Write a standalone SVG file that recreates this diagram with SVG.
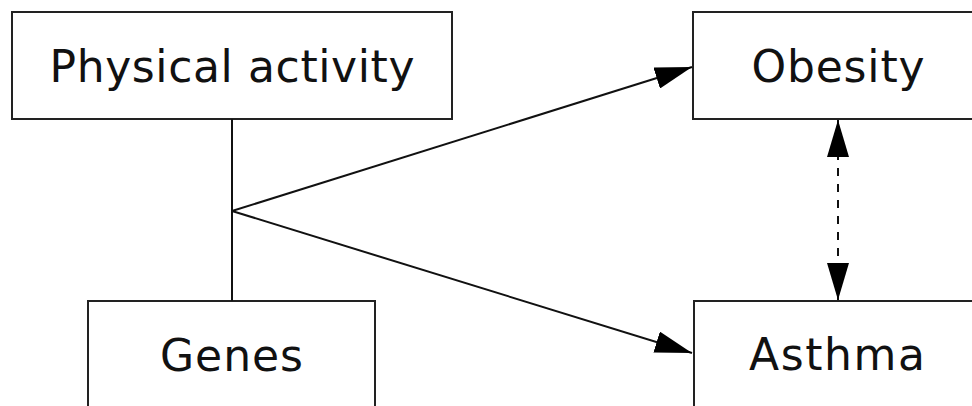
<svg xmlns="http://www.w3.org/2000/svg" width="972" height="406" viewBox="0 0 972 406">
<style>
.box{fill:#fff;stroke:#222;stroke-width:2}
.lbl{font-family:"DejaVu Sans","Liberation Sans",Arial,sans-serif;font-size:44px;fill:#111;text-anchor:middle}
.ln{stroke:#111;stroke-width:2;fill:none}
</style>
<defs>
<marker id="ah" markerUnits="userSpaceOnUse" viewBox="0 0 37 22" refX="37" refY="11" markerWidth="37" markerHeight="22" orient="auto-start-reverse">
<path d="M0,0 L37,11 L0,22 Z" fill="#000"/>
</marker>
</defs>
<rect width="972" height="406" fill="#fff"/>
<g id="physical-activity">
<rect class="box" x="12" y="12" width="440" height="107"/>
<text class="lbl" x="232" y="82" textLength="365" lengthAdjust="spacing">Physical activity</text>
</g>
<g id="obesity">
<rect class="box" x="693" y="12" width="290" height="107"/>
<text class="lbl" x="838" y="82" textLength="173" lengthAdjust="spacing">Obesity</text>
</g>
<g id="genes">
<rect class="box" x="88" y="301" width="287" height="120"/>
<text class="lbl" x="231.5" y="371" textLength="143" lengthAdjust="spacing">Genes</text>
</g>
<g id="asthma">
<rect class="box" x="694" y="301" width="290" height="120"/>
<text class="lbl" x="837" y="370" textLength="176" lengthAdjust="spacing">Asthma</text>
</g>
<g id="connectors">
<line class="ln" x1="232" y1="119" x2="232" y2="301"/>
<line class="ln" x1="232" y1="211" x2="692" y2="67" marker-end="url(#ah)"/>
<line class="ln" x1="232" y1="211" x2="692" y2="353" marker-end="url(#ah)"/>
<line class="ln" x1="838" y1="120" x2="838" y2="300" stroke-dasharray="8,8" marker-start="url(#ah)" marker-end="url(#ah)"/>
</g>
</svg>
